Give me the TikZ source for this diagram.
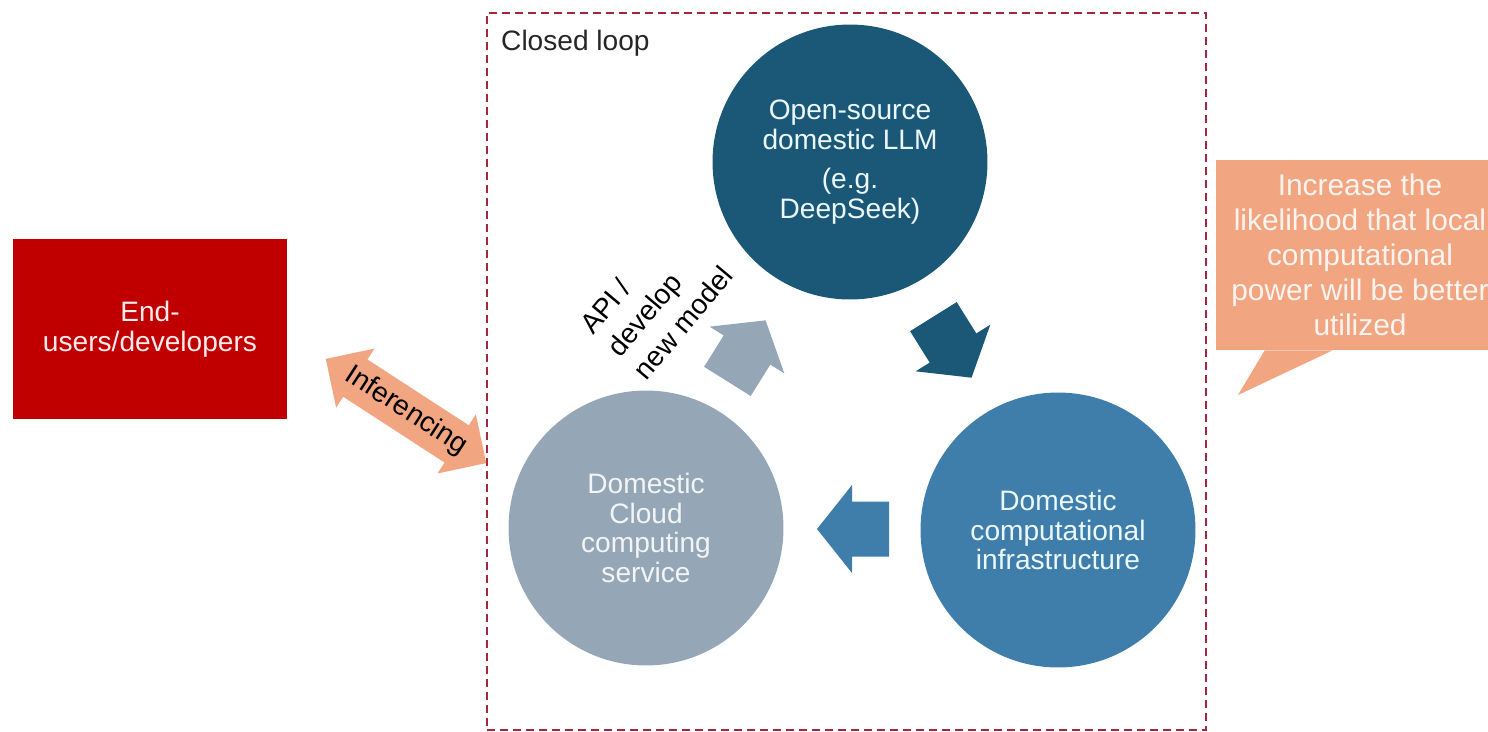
\documentclass[tikz,border=0pt]{standalone}
\usepackage{fontspec}
\setmainfont{Liberation Sans}
\usetikzlibrary{arrows.meta,positioning,shapes.geometric,shapes.arrows,calc}
\definecolor{llmblue}{HTML}{1B5878}
\definecolor{infblue}{HTML}{3F7EAA}
\definecolor{cloudgray}{HTML}{95A6B7}
\definecolor{userred}{HTML}{C00000}
\definecolor{salmon}{HTML}{F1A681}
\definecolor{loopred}{HTML}{A3283E}
\tikzset{
  txt/.style={font=\fontsize{16}{17}\selectfont, align=center},
  circ/.style={circle, minimum size=5.5cm, inner sep=0pt, txt, text=white!92!cyan},
  loopbox/.style={draw=loopred, line width=1.1pt, dash pattern=on 0.16cm off 0.1cm, minimum width=14.38cm, minimum height=14.34cm, inner sep=0pt},
  ublk/.style={fill=userred, minimum width=5.48cm, minimum height=3.6cm, txt, text=white!92!red, inner sep=0pt},
  pics/blkarrow/.style={code={
    \fill[#1] (-37,-27.5) -- (0,-27.5) -- (0,-44) -- (35,0) -- (0,44) -- (0,27.5) -- (-37,27.5) -- cycle;
  }},
}

\begin{document}
\begin{tikzpicture}[x=0.02cm, y=-0.02cm]
\useasboundingbox (0,0) rectangle (1488,731);
\clip (0,0) rectangle (1488,731);

% Closed loop frame
\node[loopbox] (loop) at (846.5,371.5) {};
\node[txt, anchor=north west, text=black!85] (looplbl) at (495,24) {Closed loop};

% Circles
\node[circ, fill=llmblue] (llm) at (850,162)
  {Open-source\\domestic LLM\\[5pt](e.g.\\DeepSeek)};
\node[circ, fill=infblue] (infra) at (1058,530)
  {Domestic\\computational\\infrastructure};
\node[circ, fill=cloudgray, text=white!88!cloudgray] (cloud) at (646,528)
  {Domestic\\Cloud\\computing\\service};

% Loop arrows
\pic[rotate=-58] (a1) at (953,348) {blkarrow=llmblue};
\pic[rotate=180] (a2) at (852,529) {blkarrow=infblue};
\pic[rotate=58] (a3) at (747,350) {blkarrow=cloudgray};
\node[font=\fontsize{16}{20}\selectfont, align=left, rotate=50] (api) at (656,300) {API /\\develop\\new model};

% End users
\node[ublk] (users) at (150,329) {End-\\users/developers};
\node[double arrow, fill=salmon, rotate=-33, minimum height=3.38cm,
  double arrow head extend=0.26cm, inner xsep=2pt, inner ysep=5pt, txt] (inf) at (406,411) {Inferencing};

% Callout
\node[fill=salmon, minimum width=5.76cm, minimum height=3.8cm, inner sep=0pt,
  font=\fontsize{17}{20}\selectfont, align=center, text=white!88!salmon] (goal) at (1360,255)
  {Increase the\\likelihood that local\\computational\\power will be better\\utilized};
\coordinate (tail) at (1238,395);
\fill[salmon] (goal.south west) ++(49,0) -- (tail) -- ($(goal.south west)+(117,0)$) -- cycle;

\end{tikzpicture}
\end{document}
